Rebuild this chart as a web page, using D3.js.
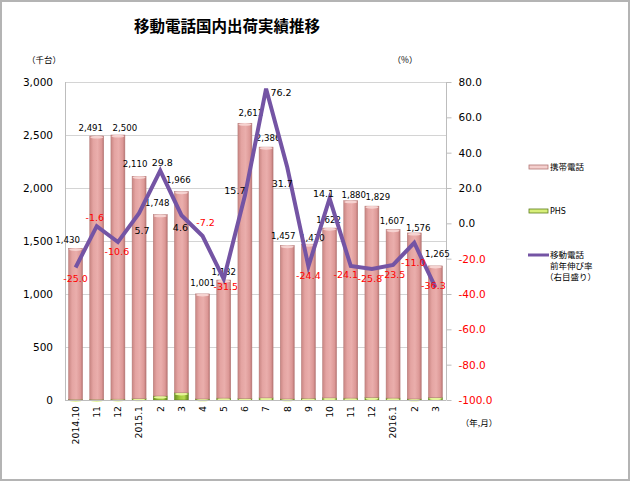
<!DOCTYPE html>
<html>
<head>
<meta charset="utf-8">
<script src="https://cdn.jsdelivr.net/npm/d3@7"></script>
<style>
  body { margin: 0; background: #fff; }
  svg { display: block; }
  .num { font-family: "DejaVu Sans", Verdana, sans-serif; }
  .jp { font-family: "Noto Sans CJK JP", sans-serif; }
</style>
</head>
<body>
<svg id="chart" width="630" height="481"></svg>
<script>
// months (year.month), shipments in thousand units
var categories = ["2014.10", "11", "12", "2015.1", "2", "3", "4", "5", "6",
                  "7", "8", "9", "10", "11", "12", "2016.1", "2", "3"];
var totalShipments = [1430, 2491, 2500, 2110, 1748, 1966, 1001, 1132, 2611,
                      2386, 1457, 1470, 1622, 1880, 1829, 1607, 1576, 1265];
var phsShipments = [6, 6, 8, 12, 38, 68, 10, 18, 14,
                    20, 10, 16, 20, 18, 24, 18, 10, 22];
// year-on-year growth of mobile phones (%), right axis
var yoyGrowth = [-25.0, -1.6, -10.6, 5.7, 29.8, 4.6, -7.2, -31.5, 15.7,
                 76.2, 31.7, -24.4, 14.1, -24.1, -25.8, -23.5, -11.0, -36.3];
var leftTicks = [0, 500, 1000, 1500, 2000, 2500, 3000];
var rightTicks = [-100, -80, -60, -40, -20, 0, 20, 40, 60, 80];

// label nudges as Excel placed them: [dx, dy]
var totalLabelOffset = [[-8, -5], [-6, -5], [7, -4], [-4, -9], [-3, -9], [-3, -9],
                        [0, -8], [0, -5], [6, -7], [2, -6], [-4, -7], [4, -3],
                        [-1, -5], [3, -3], [6, -6], [-1, -6], [4, -2], [2, -9]];
var growthLabelOffset = [[0, 11], [-2, -8], [-1, 10], [3, 17], [2, -8], [-1, 12],
                         [3, -13], [2, 8], [-10, -5], [15, 4], [-5, 16], [0, 9],
                         [-6, -5], [-5, 9], [-2, 10], [0, 10], [-1, 20], [-2, -2]];

var svg = d3.select("#chart");
var plotL = 65, plotR = 446, plotT = 82, plotB = 400;
var fmtPct = function(d) { return d.toFixed(1); };

var x = d3.scaleBand()
    .domain(d3.range(categories.length))
    .range([plotL, plotR])
    .paddingInner(0.34)
    .paddingOuter(0.17);
var y = d3.scaleLinear().domain([0, 3000]).range([plotB, plotT]);
var y2 = d3.scaleLinear().domain([-100, 80]).range([plotB, plotT]);

// outer frame
svg.append("rect")
    .attr("x", 1).attr("y", 1).attr("width", 628).attr("height", 479)
    .attr("fill", "#fff").attr("stroke", "#b4b4b4").attr("stroke-width", 2);

// gradients for the cylinder look
var defs = svg.append("defs");
function grad(id, stops) {
  var g = defs.append("linearGradient").attr("id", id)
      .attr("x1", "0").attr("x2", "1").attr("y1", "0").attr("y2", "0");
  stops.forEach(function(s) {
    g.append("stop").attr("offset", s[0]).attr("stop-color", s[1]);
  });
}
grad("gMobile", [[0, "#c98683"], [0.25, "#e4a4a2"], [0.55, "#eaaeac"], [0.85, "#dc9896"], [1, "#b97573"]]);
grad("gPhs", [[0, "#6b8f22"], [0.4, "#a6cc3e"], [0.7, "#b6d94e"], [1, "#5f8419"]]);

// gridlines
svg.append("g").selectAll("line")
  .data(leftTicks.slice(1))
  .join("line")
    .attr("x1", plotL).attr("x2", plotR)
    .attr("y1", function(d) { return y(d) + 0.5; })
    .attr("y2", function(d) { return y(d) + 0.5; })
    .attr("stroke", "#d4d4d4");

// plot frame (left, right)
svg.append("line").attr("x1", plotL + 0.5).attr("x2", plotL + 0.5)
    .attr("y1", plotT).attr("y2", plotB).attr("stroke", "#bdbdbd");
svg.append("line").attr("x1", plotR + 0.5).attr("x2", plotR + 0.5)
    .attr("y1", plotT).attr("y2", plotB).attr("stroke", "#bdbdbd");

// left axis
var yAxis = svg.append("g")
    .attr("transform", "translate(" + plotL + ",0)")
    .call(d3.axisLeft(y).tickValues(leftTicks).tickSize(0).tickPadding(12)
          .tickFormat(d3.format(",")));
yAxis.select(".domain").remove();
yAxis.selectAll("text").attr("class", "num").style("font-size", "10.5px")
    .attr("fill", "#000");

// right axis
var y2Axis = svg.append("g")
    .attr("transform", "translate(" + (plotR + 0.5) + ",0)")
    .call(d3.axisRight(y2).tickValues(rightTicks).tickSize(5).tickPadding(7)
          .tickFormat(fmtPct));
y2Axis.select(".domain").remove();
y2Axis.selectAll("line").attr("stroke", "#bdbdbd");
y2Axis.selectAll("text").attr("class", "num").style("font-size", "10.5px")
    .attr("fill", function(d) { return d < 0 ? "#ff0000" : "#000"; });

// stacked bars
var rows = categories.map(function(c, i) {
  return { i: i, mobile: totalShipments[i] - phsShipments[i], phs: phsShipments[i] };
});
var series = d3.stack().keys(["phs", "mobile"])(rows);
var fills = { phs: "url(#gPhs)", mobile: "url(#gMobile)" };
var caps = { phs: "#e6f59a", mobile: "#f6d3d1" };
var strokes = { phs: "#5c7d1c", mobile: "#b27674" };

series.forEach(function(s) {
  var g = svg.append("g");
  g.selectAll("rect")
    .data(s)
    .join("rect")
      .attr("x", function(d) { return x(d.data.i); })
      .attr("y", function(d) { return y(d[1]); })
      .attr("width", x.bandwidth())
      .attr("height", function(d) { return Math.max(1, y(d[0]) - y(d[1])); })
      .attr("fill", fills[s.key])
      .attr("stroke", strokes[s.key])
      .attr("stroke-width", 0.5);
  g.selectAll("ellipse")
    .data(s)
    .join("ellipse")
      .attr("cx", function(d) { return x(d.data.i) + x.bandwidth() / 2; })
      .attr("cy", function(d) { return y(d[1]) + 1.2; })
      .attr("rx", x.bandwidth() / 2 - 0.5)
      .attr("ry", 1.4)
      .attr("fill", caps[s.key]);
});

// bottom axis
svg.append("line").attr("x1", plotL).attr("x2", plotR)
    .attr("y1", plotB + 0.5).attr("y2", plotB + 0.5).attr("stroke", "#bdbdbd");
var xAxis = svg.append("g")
    .attr("transform", "translate(0," + plotB + ")")
    .call(d3.axisBottom(x).tickSize(0).tickFormat(function(i) { return categories[i]; }));
xAxis.select(".domain").remove();
xAxis.selectAll("text")
    .attr("class", "num")
    .style("font-size", "9.3px")
    .attr("fill", "#000")
    .attr("text-anchor", "end")
    .attr("dy", "0.35em")
    .attr("transform", "translate(0,6) rotate(-90)")
    .attr("x", 0).attr("y", 0);

// bar total labels
svg.append("g").selectAll("text")
  .data(totalShipments)
  .join("text")
    .attr("class", "num")
    .attr("x", function(d, i) { return x(i) + x.bandwidth() / 2 + totalLabelOffset[i][0]; })
    .attr("y", function(d, i) { return y(d) + totalLabelOffset[i][1]; })
    .attr("text-anchor", "middle")
    .style("font-size", "8.6px")
    .attr("fill", "#000")
    .text(d3.format(","));

// growth line
var line = d3.line()
    .x(function(d, i) { return x(i) + x.bandwidth() / 2; })
    .y(function(d) { return y2(d); });
svg.append("path")
    .datum(yoyGrowth)
    .attr("d", line)
    .attr("fill", "none")
    .attr("stroke", "#7454a4")
    .attr("stroke-width", 4)
    .attr("stroke-linejoin", "miter");

svg.append("g").selectAll("text")
  .data(yoyGrowth)
  .join("text")
    .attr("class", "num")
    .attr("x", function(d, i) { return x(i) + x.bandwidth() / 2 + growthLabelOffset[i][0]; })
    .attr("y", function(d, i) { return y2(d) + growthLabelOffset[i][1]; })
    .attr("dy", "0.35em")
    .attr("text-anchor", "middle")
    .style("font-size", "9.5px")
    .attr("fill", function(d) { return d < 0 ? "#ff0000" : "#000"; })
    .text(fmtPct);

// title and unit labels
svg.append("text").attr("class", "jp")
    .attr("x", 227).attr("y", 32).attr("text-anchor", "middle")
    .style("font-size", "15.5px").style("font-weight", "bold")
    .text("移動電話国内出荷実績推移");
svg.append("text").attr("class", "jp")
    .attr("x", 44).attr("y", 63).attr("text-anchor", "middle")
    .style("font-size", "8.5px").text("（千台）");
svg.append("text").attr("class", "jp")
    .attr("x", 405).attr("y", 63).attr("text-anchor", "middle")
    .style("font-size", "8.5px").text("（%）");
svg.append("text").attr("class", "jp")
    .attr("x", 479).attr("y", 426).attr("text-anchor", "middle")
    .style("font-size", "8.5px").text("（年,月）");

// legend
var legend = svg.append("g").attr("class", "jp").style("font-size", "8.5px");
legend.append("rect").attr("x", 529).attr("y", 165).attr("width", 19).attr("height", 4)
    .attr("fill", "#f4cfcd").attr("stroke", "#b27674").attr("stroke-width", 0.8);
legend.append("text").attr("x", 550).attr("y", 170).text("携帯電話");
legend.append("rect").attr("x", 529).attr("y", 209).attr("width", 19).attr("height", 4)
    .attr("fill", "#d8ef7a").attr("stroke", "#5c7d1c").attr("stroke-width", 0.8);
legend.append("text").attr("x", 550).attr("y", 214).style("font-size", "8px")
    .attr("class", "num").text("PHS");
legend.append("line").attr("x1", 528).attr("x2", 549).attr("y1", 255).attr("y2", 255)
    .attr("stroke", "#7454a4").attr("stroke-width", 3);
legend.append("text").attr("x", 550).attr("y", 258).text("移動電話");
legend.append("text").attr("x", 550).attr("y", 269).text("前年伸び率");
legend.append("text").attr("x", 545).attr("y", 280).text("（右目盛り）");
</script>
</body>
</html>
